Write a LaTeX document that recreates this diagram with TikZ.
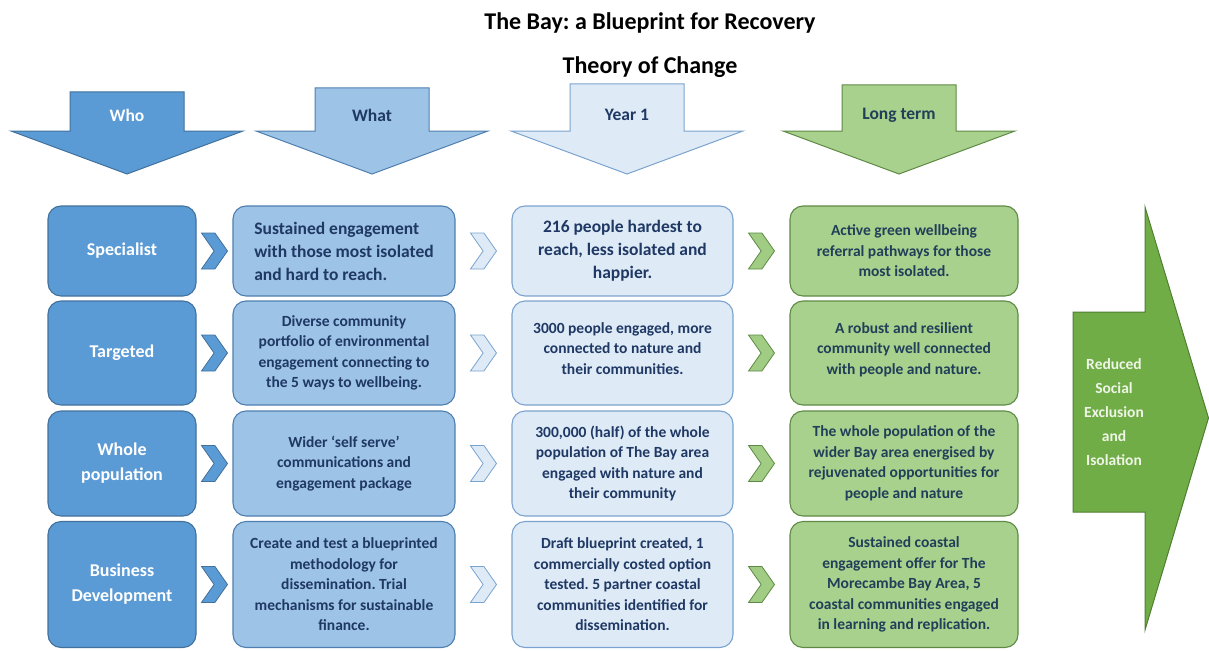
\documentclass[tikz,border=0pt]{standalone}
\usepackage{fontspec}
\setmainfont{Carlito}
\usepackage{tikz}
\usetikzlibrary{shapes.symbols,positioning,calc}
\frenchspacing
\definecolor{whoblue}{HTML}{5B9BD5}
\definecolor{whoedge}{HTML}{41719C}
\definecolor{whatblue}{HTML}{9DC3E6}
\definecolor{whatedge}{HTML}{4F7FB0}
\definecolor{yearblue}{HTML}{DEEBF7}
\definecolor{yearedge}{HTML}{7BA3CF}
\definecolor{longgreen}{HTML}{A9D18E}
\definecolor{longedge}{HTML}{5E8A45}
\definecolor{goalgreen}{HTML}{70AD47}
\definecolor{goaledge}{HTML}{507E32}
\definecolor{navytext}{HTML}{1F3864}
\definecolor{greentext}{HTML}{203F58}
\definecolor{goaltext}{HTML}{EEF5E6}

\begin{document}
\begin{tikzpicture}[x=1pt,y=-1pt,
    cell/.style={draw,rounded corners=13pt,line width=1.1pt,align=center,inner sep=2pt,
        font=\bfseries\fontsize{15.5}{20.5}\selectfont},
    whocell/.style={cell,fill=whoblue,draw=whoedge,text=white,minimum width=148pt,
        font=\bfseries\fontsize{18}{25}\selectfont},
    whatcell/.style={cell,fill=whatblue,draw=whatedge,text=navytext,minimum width=222pt},
    yearcell/.style={cell,fill=yearblue,draw=yearedge,text=navytext,minimum width=221pt},
    longcell/.style={cell,fill=longgreen,draw=longedge,text=greentext,minimum width=228pt},
    big/.style={font=\bfseries\fontsize{17.5}{23}\selectfont},
    chev/.style={signal,signal from=west,signal to=east,signal pointer angle=110,
        minimum width=26pt,minimum height=36pt,inner sep=0pt,line width=0.8pt},
    hdr/.style={line width=1pt},
    hdrtext/.style={font=\bfseries\fontsize{17.5}{21}\selectfont}]

    \useasboundingbox (0,0) rectangle (1209,650);

    % Title
    \node[font=\bfseries\fontsize{24}{29}\selectfont] (title) at (650,23) {The Bay: a Blueprint for Recovery};
    \node[font=\bfseries\fontsize{24}{28}\selectfont] (subtitle) at (650,67) {Theory of Change};

    % Header arrows
    \foreach \cx/\top/\fc/\dc/\tc/\lbl/\nm in {127/92/whoblue/whoedge/white/Who/hwho,
            372/88/whatblue/whatedge/navytext/What/hwhat,
            627/84/yearblue/yearedge/navytext/Year 1/hyear,
            899/85/longgreen/longedge/greentext/Long term/hlong} {
        \draw[hdr,fill=\fc,draw=\dc] (\cx-57,\top) -- (\cx+57,\top) -- (\cx+57,131)
            -- (\cx+116,131) -- (\cx,174) -- (\cx-116,131) -- (\cx-57,131) -- cycle;
        \node[hdrtext,text=\tc] (\nm) at (\cx,115) {\lbl};
    }

    % Who column
    \node[whocell,minimum height=90pt] (who1) at (122,251) {Specialist};
    \node[whocell,minimum height=104pt] (who2) at (122,353) {Targeted};
    \node[whocell,minimum height=105pt] (who3) at (122,463.5) {Whole\\population};
    \node[whocell,minimum height=126pt] (who4) at (122,584.5) {Business\\Development};

    % What column
    \node[whatcell,big,align=left,minimum height=90pt] (what1) at (344,251)
        {Sustained engagement\\with those most isolated\\and hard to reach.};
    \node[whatcell,minimum height=104pt] (what2) at (344,353)
        {Diverse community\\portfolio of environmental\\engagement connecting to\\the 5 ways to wellbeing.};
    \node[whatcell,minimum height=105pt] (what3) at (344,463.5)
        {Wider ‘self serve’\\communications and\\engagement package};
    \node[whatcell,minimum height=126pt] (what4) at (344,584.5)
        {Create and test a blueprinted\\methodology for\\dissemination. Trial\\mechanisms for sustainable\\finance.};

    % Year 1 column
    \node[yearcell,big,minimum height=90pt] (year1) at (622.5,251)
        {216 people hardest to\\reach, less isolated and\\happier.};
    \node[yearcell,minimum height=104pt] (year2) at (622.5,353)
        {3000 people engaged, more\\connected to nature and\\their communities.\\[-11pt]{}};
    \node[yearcell,minimum height=105pt] (year3) at (622.5,463.5)
        {300,000 (half) of the whole\\population of The Bay area\\engaged with nature and\\their community};
    \node[yearcell,minimum height=126pt] (year4) at (622.5,584.5)
        {Draft blueprint created, 1\\commercially costed option\\tested. 5 partner coastal\\communities identified for\\dissemination.};

    % Long term column
    \node[longcell,minimum height=90pt] (long1) at (904,251)
        {Active green wellbeing\\referral pathways for those\\most isolated.};
    \node[longcell,minimum height=104pt] (long2) at (904,353)
        {A robust and resilient\\community well connected\\with people and nature.\\[-11pt]{}};
    \node[longcell,minimum height=105pt] (long3) at (904,463.5)
        {The whole population of the\\wider Bay area energised by\\rejuvenated opportunities for\\people and nature};
    \node[longcell,minimum height=126pt] (long4) at (904,584.5)
        {Sustained coastal\\engagement offer for The\\Morecambe Bay Area, 5\\coastal communities engaged\\in learning and replication.};

    % Chevrons between columns
    \foreach \r in {1,2,3,4} {
        \node[chev,fill=whoblue,draw=whoedge] (ca\r) at ($(who\r.east)!0.5!(what\r.west)$) {};
        \node[chev,fill=yearblue,draw=yearedge] (cb\r) at ($(what\r.east)!0.5!(year\r.west)$) {};
        \node[chev,fill=longgreen!85!goalgreen,draw=longedge] (cc\r) at ($(year\r.east)!0.5!(long\r.west)$) {};
    }

    % Outcome arrow
    \draw[fill=goalgreen,draw=goaledge,line width=1pt] (1073,312) -- (1145,312) -- (1145,207)
        -- (1208.5,418) -- (1145,630) -- (1145,512) -- (1073,512) -- cycle;
    \node[text=goaltext,align=center,font=\bfseries\fontsize{15.5}{24}\selectfont] (goal) at (1114,412)
        {Reduced\\Social\\Exclusion\\and\\Isolation};
\end{tikzpicture}
\end{document}
